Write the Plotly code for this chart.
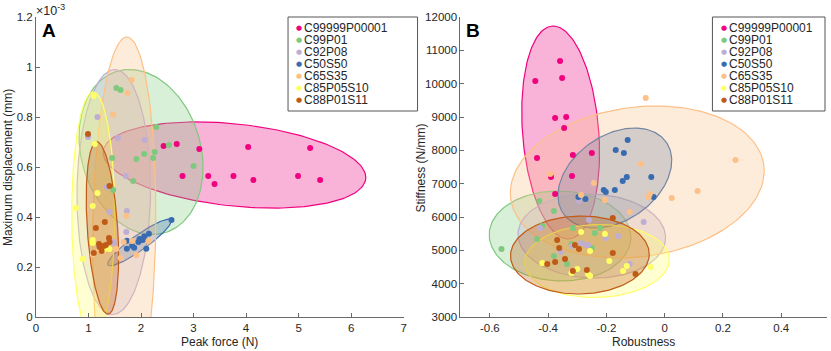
import numpy as np
import plotly.graph_objects as go

groups = ["C99999P00001", "C99P01", "C92P08", "C50S50", "C65S35", "C85P05S10", "C88P01S11"]
colors = ["#f0027f", "#7fc97f", "#beaed4", "#386cb0", "#fdc086", "#ffff66", "#bf5b17"]

# ---- Panel A: peak force (N) vs maximum displacement (x1e-3 mm)
force_C99999P00001 = [2.43, 2.68, 3.11, 4.04, 5.22, 2.79, 3.28, 3.40, 3.76, 4.14, 4.99, 5.41]
disp_C99999P00001 = [0.684, 0.692, 0.672, 0.680, 0.676, 0.564, 0.564, 0.532, 0.564, 0.548, 0.564, 0.548]
force_C99P01 = [1.53, 1.61, 2.29, 2.53, 1.45, 1.91, 2.06, 2.26, 2.23, 3.00, 1.85, 1.47]
disp_C99P01 = [0.916, 0.908, 0.760, 0.688, 0.636, 0.632, 0.652, 0.660, 0.636, 0.604, 0.544, 0.508]
force_C92P08 = [1.17, 0.99, 1.56, 2.07, 1.71, 1.35, 1.40, 1.73, 1.72, 1.48, 1.20, 1.46]
disp_C92P08 = [0.800, 0.720, 0.716, 0.708, 0.564, 0.520, 0.420, 0.424, 0.340, 0.296, 0.280, 0.300]
force_C50S50 = [1.73, 1.73, 1.83, 1.87, 1.97, 2.02, 2.06, 2.15, 2.10, 2.58, 1.95, 2.05]
disp_C50S50 = [0.305, 0.273, 0.285, 0.277, 0.312, 0.308, 0.322, 0.333, 0.273, 0.388, 0.300, 0.310]
force_C65S35 = [1.82, 1.74, 1.47, 1.72, 1.08, 1.53, 1.67, 1.83, 2.14, 1.61, 1.91, 1.20]
disp_C65S35 = [0.948, 0.896, 0.810, 0.405, 0.250, 0.272, 0.300, 0.304, 0.304, 0.236, 0.248, 0.270]
force_C85P05S10 = [1.10, 1.12, 1.17, 1.08, 0.76, 1.08, 1.08, 1.33, 1.40, 0.89, 1.30, 1.25]
disp_C85P05S10 = [0.884, 0.692, 0.496, 0.444, 0.436, 0.308, 0.296, 0.276, 0.272, 0.232, 0.270, 0.265]
force_C88P01S11 = [0.99, 1.40, 1.14, 1.31, 1.20, 1.39, 1.29, 1.33, 1.40, 1.25, 1.10, 1.21]
disp_C88P01S11 = [0.732, 0.524, 0.356, 0.380, 0.292, 0.316, 0.284, 0.288, 0.300, 0.264, 0.256, 0.280]

# ---- Panel B: robustness vs stiffness (N/mm)
rob_C99999P00001 = [-0.359, -0.444, -0.352, -0.376, -0.338, -0.345, -0.438, -0.315, -0.250, -0.390, -0.318, -0.376]
stiff_C99999P00001 = [10680, 10080, 10170, 8970, 9000, 8670, 7770, 7860, 7920, 7200, 7230, 6690]
rob_C99P01 = [-0.43, -0.38, -0.42, -0.438, -0.56, -0.315, -0.24, -0.222, -0.32, -0.25, -0.38, -0.335]
stiff_C99P01 = [6480, 6180, 5730, 5340, 5040, 5670, 5520, 5670, 5190, 5070, 4830, 4590]
rob_C92P08 = [-0.294, -0.26, -0.072, -0.427, -0.202, -0.16, -0.287, -0.27, -0.263, -0.356, -0.318, -0.12]
stiff_C92P08 = [6480, 5910, 5850, 5670, 5370, 5430, 5220, 5160, 5160, 4950, 5130, 4590]
rob_C50S50 = [-0.127, -0.168, -0.140, -0.130, -0.144, -0.046, -0.209, -0.202, -0.171, -0.038, -0.296, -0.272]
stiff_C50S50 = [8310, 8010, 7920, 7200, 7080, 7200, 6810, 6750, 6810, 6600, 6600, 6540]
rob_C65S35 = [-0.065, 0.243, -0.082, -0.393, -0.243, -0.287, -0.205, -0.12, -0.051, -0.055, 0.024, 0.113]
stiff_C65S35 = [9570, 7710, 7590, 7290, 7020, 6660, 6510, 6150, 6690, 6600, 6570, 6780]
rob_C85P05S10 = [-0.287, -0.205, -0.256, -0.42, -0.19, -0.13, -0.143, -0.048, -0.30, -0.32, -0.263, -0.256]
stiff_C85P05S10 = [5550, 5490, 4980, 4620, 4680, 4530, 4380, 4500, 4440, 4320, 4290, 4230]
rob_C88P01S11 = [-0.178, -0.369, -0.362, -0.308, -0.294, -0.178, -0.342, -0.376, -0.403, -0.315, -0.267, -0.10]
stiff_C88P01S11 = [5970, 5310, 5070, 5160, 5040, 4920, 4740, 4650, 4590, 4380, 4410, 4290]

# ---- Ellipses: centre, semi-diameter a (cos), conjugate b (sin)
ellA_cx = [3.78, 2.00, 1.48, 1.97, 1.68, 1.09, 1.265]
ellA_cy = [0.608, 0.66, 0.50, 0.298, 0.35, 0.41, 0.356]
ellA_ax = [2.50, 1.16, 0.70, 0.60, 0.60, 0.41, 0.29]
ellA_ay = [-0.05, 0.0, 0.0, 0.09, 0.0, 0.0, 0.0]
ellA_bx = [0.0, -0.22, 0.02, 0.082, 0.05, 0.0, -0.105]
ellA_by = [0.165, 0.33, 0.49, -0.025, 0.77, 0.49, 0.345]

ellB_cx = [-0.357, -0.359, -0.250, -0.171, -0.094, -0.232, -0.291]
ellB_cy = [8535, 5430, 5430, 7170, 7050, 4680, 4860]
ellB_ax = [0.131, 0.243, 0.253, 0.183, 0.431, 0.248, 0.238]
ellB_ay = [0, 0, 0, 0, 0, 0, 0]
ellB_bx = [-0.0256, -0.007, -0.010, 0.068, 0.063, 0.010, 0.005]
ellB_by = [3195, 1350, 1260, 1500, 2280, 1095, 1170]

xA_ticks = [0, 1, 2, 3, 4, 5, 6, 7]
yA_ticks = [0, 0.2, 0.4, 0.6, 0.8, 1.0, 1.2]
yA_labels = ["0", "0.2", "0.4", "0.6", "0.8", "1", "1.2"]
xB_ticks = [-0.6, -0.4, -0.2, 0, 0.2, 0.4]
xB_labels = ["-0.6", "-0.4", "-0.2", "0", "0.2", "0.4"]
yB_ticks = [3000, 4000, 5000, 6000, 7000, 8000, 9000, 10000, 11000, 12000]
yB_labels = ["3000", "4000", "5000", "6000", "7000", "8000", "9000", "10000", "11000", "12000"]

A_x = [force_C99999P00001, force_C99P01, force_C92P08, force_C50S50, force_C65S35, force_C85P05S10, force_C88P01S11]
A_y = [disp_C99999P00001, disp_C99P01, disp_C92P08, disp_C50S50, disp_C65S35, disp_C85P05S10, disp_C88P01S11]
B_x = [rob_C99999P00001, rob_C99P01, rob_C92P08, rob_C50S50, rob_C65S35, rob_C85P05S10, rob_C88P01S11]
B_y = [stiff_C99999P00001, stiff_C99P01, stiff_C92P08, stiff_C50S50, stiff_C65S35, stiff_C85P05S10, stiff_C88P01S11]


def rgba(h, a):
    h = h.lstrip("#")
    return "rgba(%d,%d,%d,%.2f)" % (int(h[0:2], 16), int(h[2:4], 16), int(h[4:6], 16), a)


t = np.linspace(0, 2 * np.pi, 200)
FONT = "Liberation Sans, Arial, Helvetica, sans-serif"

fig = go.Figure()

for (cx, cy, ax, ay, bx, by, xr, yr) in [
    (ellA_cx, ellA_cy, ellA_ax, ellA_ay, ellA_bx, ellA_by, "x", "y"),
    (ellB_cx, ellB_cy, ellB_ax, ellB_ay, ellB_bx, ellB_by, "x2", "y2"),
]:
    for i, c in enumerate(colors):
        ex = cx[i] + ax[i] * np.cos(t) + bx[i] * np.sin(t)
        ey = cy[i] + ay[i] * np.cos(t) + by[i] * np.sin(t)
        fig.add_trace(go.Scatter(x=ex, y=ey, mode="lines", fill="toself",
                                 fillcolor=rgba(c, 0.3), line=dict(color=c, width=1.2),
                                 xaxis=xr, yaxis=yr, hoverinfo="skip", showlegend=False))

for xs, ys, xr, yr in [(A_x, A_y, "x", "y"), (B_x, B_y, "x2", "y2")]:
    for i, c in enumerate(colors):
        fig.add_trace(go.Scatter(x=xs[i], y=ys[i], mode="markers", name=groups[i],
                                 marker=dict(color=c, size=6, line=dict(width=0)),
                                 xaxis=xr, yaxis=yr, showlegend=False))

W, H = 831, 351
ML, MR, MT, MB = 36, 1, 17, 34
PW, PH = W - ML - MR, H - MT - MB


def px(x):
    return (x - ML) / PW


def py(y):
    return (H - MB - y) / PH


axis_style = dict(showline=True, linecolor="#6a6a6a", linewidth=1, ticks="inside", ticklen=4,
                  tickcolor="#6a6a6a", showgrid=False, zeroline=False,
                  tickfont=dict(family=FONT, size=11.5, color="#262626"))

fig.update_layout(
    width=W, height=H, margin=dict(l=ML, r=MR, t=MT, b=MB),
    paper_bgcolor="white", plot_bgcolor="white", showlegend=False,
    xaxis=dict(domain=[0, px(405)], range=[0, 7], tickvals=xA_ticks, anchor="y", **axis_style),
    yaxis=dict(domain=[0, 1], range=[0, 1.2], tickvals=yA_ticks, ticktext=yA_labels, anchor="x", **axis_style),
    xaxis2=dict(domain=[px(462), 1], range=[-0.701, 0.557], tickvals=xB_ticks, ticktext=xB_labels,
                anchor="y2", **axis_style),
    yaxis2=dict(domain=[0, 1], range=[3000, 12000], tickvals=yB_ticks, ticktext=yB_labels,
                anchor="x2", **axis_style),
)

ann = []


def note(x, y, text, size, color="#262626", xanchor="center", angle=0, family=FONT):
    ann.append(dict(x=px(x), y=py(y), xref="paper", yref="paper", text=text, showarrow=False,
                    xanchor=xanchor, yanchor="middle", textangle=angle, borderpad=0,
                    font=dict(family=family, size=size, color=color)))


note(220, 342, "Peak force (N)", 12)
note(646, 342, "Robustness", 12)
note(8, 168, "Maximum displacement (mm)", 12, angle=-90)
note(422, 168, "Stiffness (N/mm)", 12, angle=-90)
note(35, 10, "×10<sup>-3</sup>", 12.5, xanchor="left")
note(41, 30, "<b>A</b>", 19, color="black", xanchor="left")
note(467, 30, "<b>B</b>", 19, color="black", xanchor="left")

shapes = []
for (x0, x1, dotx, textx) in [(289, 419, 300, 304), (715, 828, 727, 731)]:
    shapes.append(dict(type="rect", xref="paper", yref="paper", x0=px(x0), x1=px(x1), y0=py(111), y1=py(17),
                       line=dict(color="#555555", width=1), fillcolor="white", layer="above"))
    for i, g in enumerate(groups):
        yy = 27.5 + i * 12.1
        note(dotx, yy, "●", 7, color=colors[i], family="DejaVu Sans")
        note(textx, yy, g, 12, xanchor="left")

fig.update_layout(annotations=ann, shapes=shapes)
fig.write_html("out.html", config={"displayModeBar": False},
               post_script="document.body.style.margin='0px';")
